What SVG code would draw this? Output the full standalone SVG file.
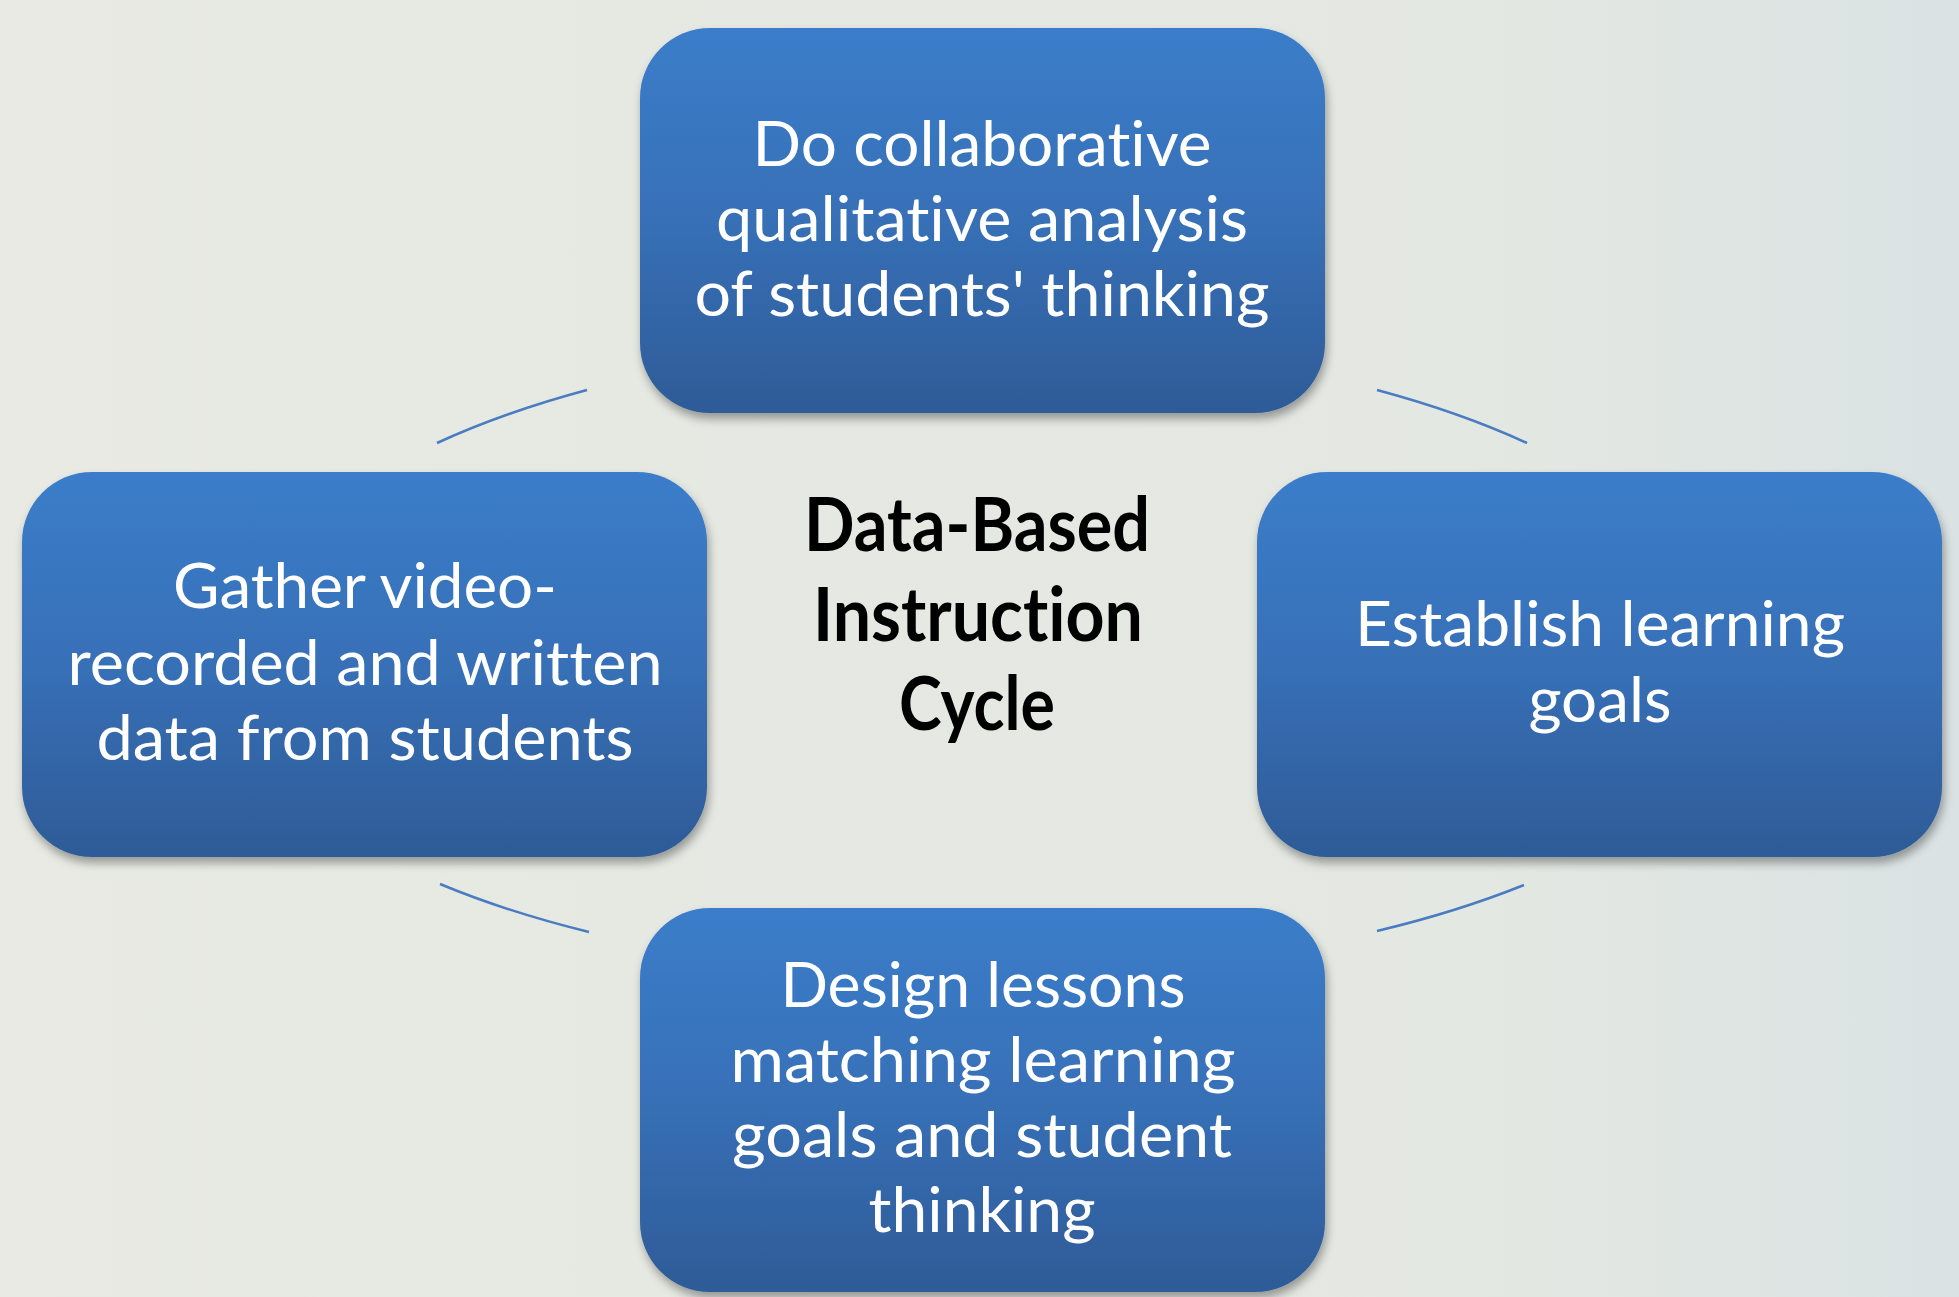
<svg xmlns="http://www.w3.org/2000/svg" width="1959" height="1297" viewBox="0 0 1959 1297">
<defs>
<linearGradient id="bg" x1="0" y1="0" x2="1" y2="0">
<stop offset="0" stop-color="#e8eae3"/>
<stop offset="0.75" stop-color="#e4e8e2"/>
<stop offset="1" stop-color="#dae2e3"/>
</linearGradient>
<linearGradient id="box" x1="0" y1="0" x2="0" y2="1">
<stop offset="0" stop-color="#3b7dca"/>
<stop offset="0.5" stop-color="#3770b7"/>
<stop offset="1" stop-color="#2e5b97"/>
</linearGradient>
<filter id="sh" x="-10%" y="-10%" width="120%" height="125%">
<feDropShadow dx="2" dy="6" stdDeviation="5" flood-color="#000" flood-opacity="0.35"/>
</filter>
</defs>
<style>
text{font-variant-ligatures:none;font-feature-settings:"liga" 0,"clig" 0}
.node rect{fill:url(#box);filter:url(#sh)}
.lbl{font-family:Lato,"Open Sans","Liberation Sans",sans-serif;font-size:61px;fill:#fff;text-anchor:middle}
.title{font-family:Lato,"Open Sans","Liberation Sans",sans-serif;font-size:74px;font-weight:bold;fill:#000;text-anchor:middle}
.arc{fill:none;stroke:#4a7cc2;stroke-width:2.5}
</style>
<rect width="1959" height="1297" fill="url(#bg)"/>
<g id="connectors">
<path class="arc" d="M437,443 A744,324 0 0,1 587,390"/>
<path class="arc" d="M1377,390 A744,324 0 0,1 1527,443"/>
<path class="arc" d="M1524,885 A744,324 0 0,1 1377,931"/>
<path class="arc" d="M589,932 A744,324 0 0,1 440,884"/>
</g>
<g id="title">
<text class="title" x="977" y="551" textLength="346" lengthAdjust="spacingAndGlyphs">Data-Based</text>
<text class="title" x="978" y="641" textLength="330" lengthAdjust="spacingAndGlyphs">Instruction</text>
<text class="title" x="977" y="730" textLength="156" lengthAdjust="spacingAndGlyphs">Cycle</text>
</g>
<g id="node-analysis" class="node">
<rect x="640" y="28" width="685" height="385" rx="70" ry="70"/>
<text class="lbl" x="982" y="166" textLength="459" lengthAdjust="spacingAndGlyphs">Do collaborative</text>
<text class="lbl" x="982" y="241" textLength="532" lengthAdjust="spacingAndGlyphs">qualitative analysis</text>
<text class="lbl" x="982" y="316" textLength="575" lengthAdjust="spacingAndGlyphs">of students' thinking</text>
</g>
<g id="node-goals" class="node">
<rect x="1257" y="472" width="685" height="385" rx="70" ry="70"/>
<text class="lbl" x="1600" y="646" textLength="490" lengthAdjust="spacingAndGlyphs">Establish learning</text>
<text class="lbl" x="1600" y="722" textLength="143" lengthAdjust="spacingAndGlyphs">goals</text>
</g>
<g id="node-design" class="node">
<rect x="640" y="908" width="685" height="384" rx="70" ry="70"/>
<text class="lbl" x="983" y="1007" textLength="405" lengthAdjust="spacingAndGlyphs">Design lessons</text>
<text class="lbl" x="983" y="1082" textLength="505" lengthAdjust="spacingAndGlyphs">matching learning</text>
<text class="lbl" x="982" y="1157" textLength="500" lengthAdjust="spacingAndGlyphs">goals and student</text>
<text class="lbl" x="982" y="1232" textLength="227" lengthAdjust="spacingAndGlyphs">thinking</text>
</g>
<g id="node-gather" class="node">
<rect x="22" y="472" width="685" height="385" rx="70" ry="70"/>
<text class="lbl" x="365" y="608" textLength="384" lengthAdjust="spacingAndGlyphs">Gather video-</text>
<text class="lbl" x="365" y="685" textLength="595" lengthAdjust="spacingAndGlyphs">recorded and written</text>
<text class="lbl" x="365" y="760" textLength="537" lengthAdjust="spacingAndGlyphs">data from students</text>
</g>
</svg>
